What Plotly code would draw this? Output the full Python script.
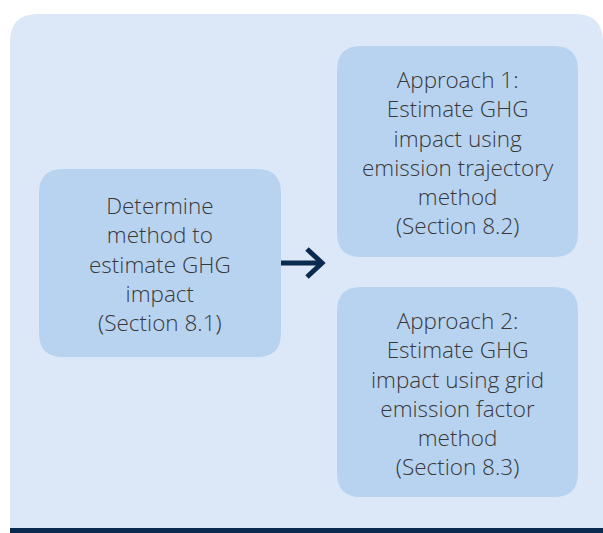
import plotly.graph_objects as go

# Diagram content
node_lines = [
    ["Determine", "method to", "estimate GHG", "impact", "(Section 8.1)"],
    ["Approach 1:", "Estimate GHG", "impact using", "emission trajectory", "method", "(Section 8.2)"],
    ["Approach 2:", "Estimate GHG", "impact using grid", "emission factor", "method", "(Section 8.3)"],
]

# Layout geometry (pixel space)
W, H = 603, 533
boxes = [  # x0, y0, x1, y1
    (39, 169, 281, 357),
    (337, 46, 578, 257),
    (337, 287, 578, 497),
]
BG = "#dce8f7"
BOX = "#b8d3f0"
DARK = "#0b2a4f"
TEXT = "#383838"


def rounded(x0, y0, x1, y1, r, corners=(True, True, True, True)):
    tl, tr, br, bl = corners
    p = []
    p.append(f"M {x0 + (r if tl else 0)},{y0}")
    p.append(f"L {x1 - (r if tr else 0)},{y0}")
    if tr:
        p.append(f"Q {x1},{y0} {x1},{y0 + r}")
    p.append(f"L {x1},{y1 - (r if br else 0)}")
    if br:
        p.append(f"Q {x1},{y1} {x1 - r},{y1}")
    p.append(f"L {x0 + (r if bl else 0)},{y1}")
    if bl:
        p.append(f"Q {x0},{y1} {x0},{y1 - r}")
    p.append(f"L {x0},{y0 + (r if tl else 0)}")
    if tl:
        p.append(f"Q {x0},{y0} {x0 + r},{y0}")
    p.append("Z")
    return " ".join(p)


shapes = []
shapes.append(dict(type="path", path=rounded(10, 14, 603, 528, 28, (True, True, False, False)),
                   fillcolor=BG, line=dict(width=0), layer="below"))
shapes.append(dict(type="rect", x0=10, x1=603, y0=528, y1=533, fillcolor=DARK,
                   line=dict(width=0), layer="below"))
for (x0, y0, x1, y1) in boxes:
    shapes.append(dict(type="path", path=rounded(x0, y0, x1, y1, 24),
                       fillcolor=BOX, line=dict(width=0), layer="below"))

# arrow
ay = 263
shapes.append(dict(type="line", x0=281, x1=322, y0=ay, y1=ay, line=dict(color=DARK, width=5)))
shapes.append(dict(type="path", path=f"M 307,{ay - 14} L 322,{ay} L 307,{ay + 14}",
                   line=dict(color=DARK, width=5)))

annotations = []
for lines, (x0, y0, x1, y1) in zip(node_lines, boxes):
    annotations.append(dict(
        x=(x0 + x1) / 2, y=(y0 + y1) / 2 + 1, xref="x", yref="y",
        text="<br>".join(lines), showarrow=False, align="center",
        font=dict(family="Open Sans Light, Open Sans", size=22.5, color=TEXT, weight=300),
    ))

fig = go.Figure()
fig.update_layout(
    width=W, height=H, margin=dict(l=0, r=0, t=0, b=0),
    paper_bgcolor="white", plot_bgcolor="white",
    xaxis=dict(range=[0, W], visible=False, fixedrange=True),
    yaxis=dict(range=[H, 0], visible=False, fixedrange=True),
    shapes=shapes, annotations=annotations, showlegend=False,
)
fig.write_html("out.html", config={"displayModeBar": False},
               post_script="document.body.style.margin='0';")
